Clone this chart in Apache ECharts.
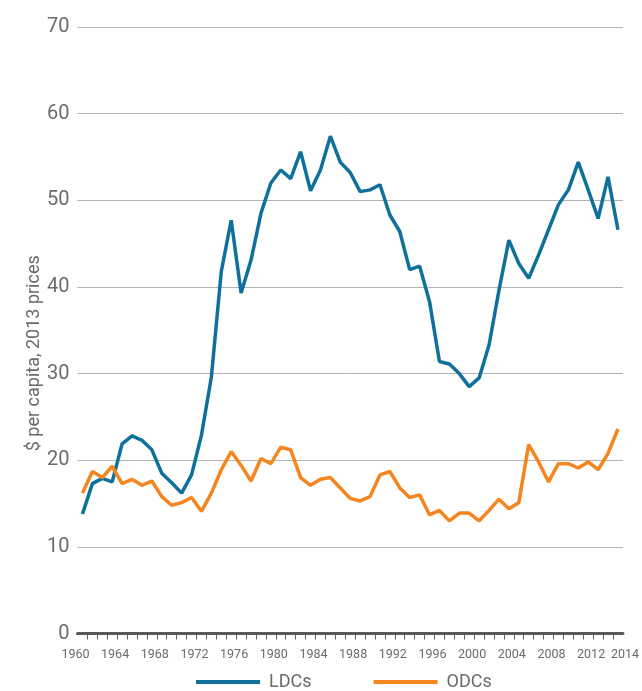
<!DOCTYPE html>
<html>
<head>
<meta charset="utf-8">
<script src="https://cdn.jsdelivr.net/npm/echarts@6/dist/echarts.min.js"></script>
<style>
  html, body { margin: 0; padding: 0; background: #fff; }
  #chart { width: 642px; height: 691px; }
</style>
</head>
<body>
<div id="chart"></div>
<script>
// years on the x axis
const years = [
  1960, 1961, 1962, 1963, 1964, 1965, 1966, 1967, 1968, 1969,
  1970, 1971, 1972, 1973, 1974, 1975, 1976, 1977, 1978, 1979,
  1980, 1981, 1982, 1983, 1984, 1985, 1986, 1987, 1988, 1989,
  1990, 1991, 1992, 1993, 1994, 1995, 1996, 1997, 1998, 1999,
  2000, 2001, 2002, 2003, 2004, 2005, 2006, 2007, 2008, 2009,
  2010, 2011, 2012, 2013, 2014
];
// $ per capita, 2013 prices
const ldcs = [
  13.8, 17.3, 17.9, 17.5, 21.9, 22.8, 22.3, 21.2, 18.5, 17.4,
  16.2, 18.3, 22.9, 29.6, 41.8, 47.7, 39.3, 43.1, 48.5, 52.0,
  53.5, 52.5, 55.6, 51.1, 53.5, 57.4, 54.4, 53.2, 51.0, 51.2,
  51.8, 48.3, 46.4, 42.0, 42.4, 38.3, 31.4, 31.1, 30.0, 28.5,
  29.5, 33.3, 39.6, 45.4, 42.7, 41.0, 43.7, 46.6, 49.5, 51.2,
  54.4, 51.2, 47.9, 52.7, 46.6
];
const odcs = [
  16.2, 18.7, 18.0, 19.3, 17.3, 17.8, 17.1, 17.6, 15.8, 14.8,
  15.1, 15.7, 14.1, 16.2, 18.9, 21.0, 19.4, 17.6, 20.2, 19.6,
  21.5, 21.2, 18.0, 17.1, 17.8, 18.0, 16.8, 15.6, 15.3, 15.8,
  18.3, 18.7, 16.8, 15.7, 16.0, 13.7, 14.2, 13.0, 13.9, 13.9,
  13.0, 14.2, 15.5, 14.4, 15.1, 21.8, 19.8, 17.5, 19.6, 19.6,
  19.1, 19.8, 18.9, 20.8, 23.6
];
const yearLabels = [1960, 1964, 1968, 1972, 1976, 1980, 1984, 1988, 1992, 1996, 2000, 2004, 2008, 2012, 2014];
const seriesNames = ['LDCs', 'ODCs'];
const seriesColors = ['#0f719b', '#f5861f'];

const chart = echarts.init(document.getElementById('chart'));
const font = 'Roboto, "Liberation Sans", sans-serif';
const textColor = '#6b6b6b';
const lastLabel = yearLabels[yearLabels.length - 1];

const option = {
  animation: false,
  grid: { left: 77.5, right: 14.5, top: 27, bottom: 57.5 },
  xAxis: {
    type: 'value',
    min: 1959.5,
    max: 2014.5,
    splitLine: { show: false },
    axisLine: { show: true, lineStyle: { color: '#595959', width: 3 } },
    axisTick: {
      show: true,
      length: 6,
      lineStyle: { color: '#595959', width: 1 },
      customValues: years.slice(0, -1).map(y => y + 0.5)
    },
    axisLabel: {
      customValues: yearLabels,
      margin: 15,
      color: textColor,
      fontFamily: font,
      fontSize: 12.5,
      formatter: v => (v === lastLabel ? '{r|' + v + '}' : '{l|' + v + '}'),
      rich: {
        l: { padding: [0, 14, 0, 0], color: textColor, fontFamily: font, fontSize: 12.5 },
        r: { padding: [0, 0, 0, 14], color: textColor, fontFamily: font, fontSize: 12.5 }
      }
    }
  },
  yAxis: {
    type: 'value',
    min: 0,
    max: 70,
    interval: 10,
    axisLine: { show: false },
    axisTick: { show: false },
    splitLine: { lineStyle: { color: '#b3b3b3', width: 1 } },
    axisLabel: { color: textColor, fontFamily: font, fontSize: 20, margin: 8 },
    name: '$ per capita, 2013 prices',
    nameLocation: 'middle',
    nameGap: 34,
    nameMoveOverlap: false,
    nameTextStyle: { color: textColor, fontFamily: font, fontSize: 18, padding: [0, 46, 0, 0] }
  },
  legend: {
    data: seriesNames,
    left: 191,
    top: 668,
    icon: 'rect',
    itemWidth: 64,
    itemHeight: 4,
    itemGap: 62,
    textStyle: { color: textColor, fontFamily: font, fontSize: 18, padding: [0, 0, 0, 4] }
  },
  series: [
    {
      name: seriesNames[0],
      type: 'line',
      color: seriesColors[0],
      showSymbol: false,
      symbol: 'none',
      lineStyle: { width: 3.5 },
      data: years.map((y, i) => [y, ldcs[i]])
    },
    {
      name: seriesNames[1],
      type: 'line',
      color: seriesColors[1],
      showSymbol: false,
      symbol: 'none',
      lineStyle: { width: 3.5 },
      data: years.map((y, i) => [y, odcs[i]])
    }
  ]
};

chart.setOption(option);
</script>
</body>
</html>
